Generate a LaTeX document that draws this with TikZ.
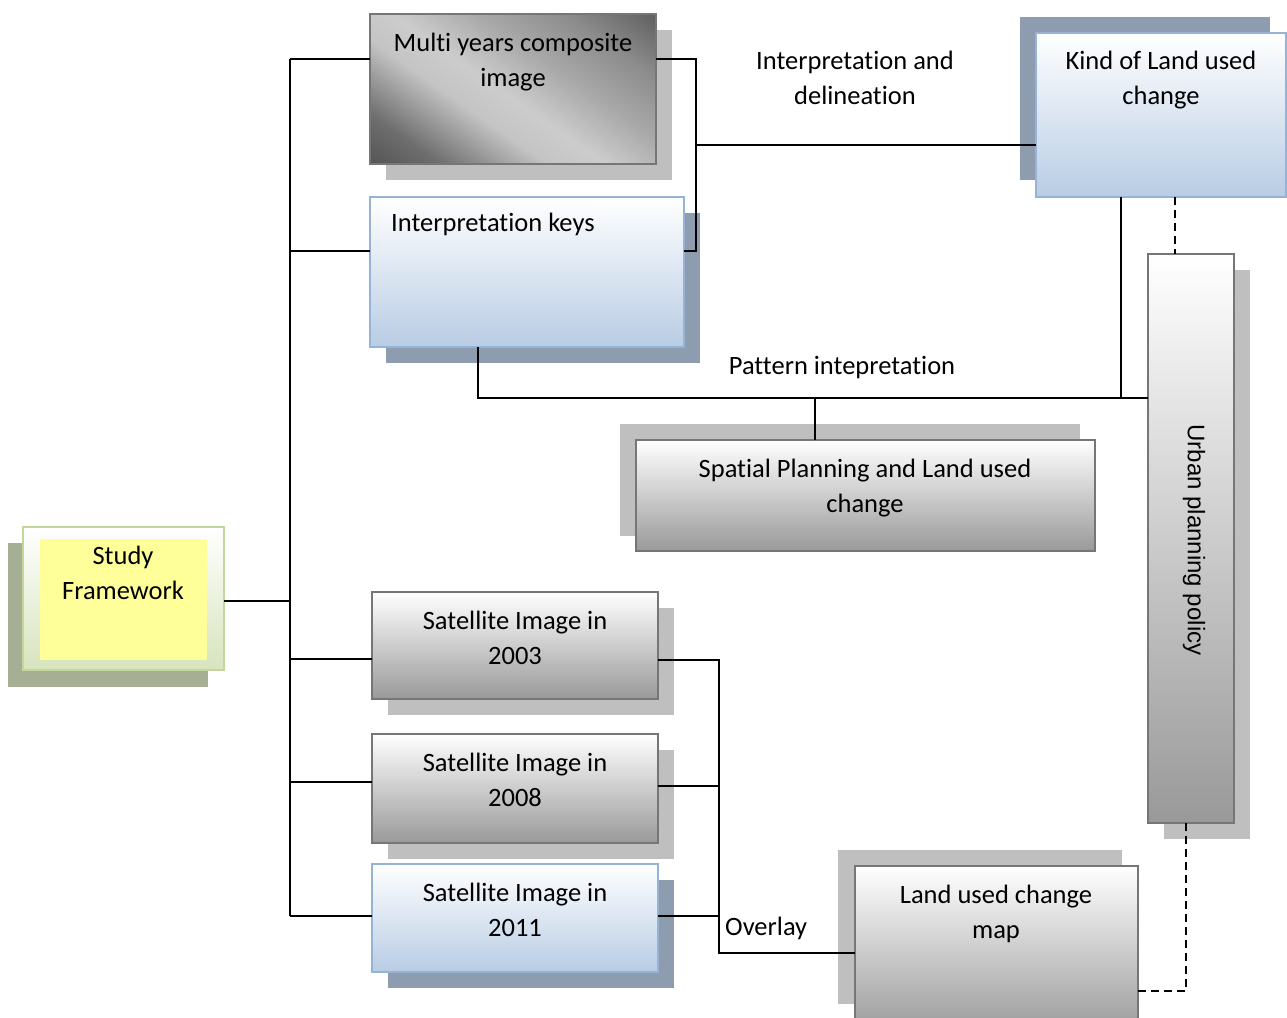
\documentclass[tikz,border=0pt]{standalone}
\usepackage{fontspec}
\setmainfont{Carlito}[Ligatures={NoCommon}]
\newfontfamily\arialfont{Liberation Sans}
\usetikzlibrary{calc}
\definecolor{sgray}{HTML}{BFBFBF}
\definecolor{sblue}{HTML}{8E9CB0}
\definecolor{sgreen}{HTML}{A6AE94}
\definecolor{bgray}{HTML}{767676}
\definecolor{botgray}{HTML}{999999}
\definecolor{bblue}{HTML}{95B3D7}
\definecolor{botblue}{HTML}{B8CCE4}
\definecolor{bgreen}{HTML}{C3D69B}
\definecolor{botgreen}{HTML}{D7E4BD}
\definecolor{yel}{HTML}{FFFF99}
\pgfdeclareverticalshading{multishade}{100bp}{%
  color(0bp)=(black!67); color(15bp)=(black!67); color(25bp)=(black!57);
  color(40bp)=(black!23); color(48bp)=(black!20); color(60bp)=(black!34);
  color(72bp)=(black!45); color(85bp)=(black!63); color(100bp)=(black!63)}
\begin{document}
\begin{tikzpicture}[x=1pt,y=-1pt,
  box/.style={rectangle, inner sep=0pt, outer sep=0pt, line width=2.5pt},
  graybox/.style={box, draw=bgray, top color=white, bottom color=botgray},
  bluebox/.style={box, draw=bblue, top color=white, bottom color=botblue},
  txt/.style={inner sep=0pt, align=center, font=\fontsize{26.5}{35}\selectfont},
  conn/.style={draw=black, line width=1.8pt},
  dconn/.style={draw=black, line width=1.8pt, dash pattern=on 8pt off 5pt}]
\useasboundingbox (0,0) rectangle (1287,1017);
% shadows
\fill[sgray] (386,30) rectangle (672,180);
\fill[sblue] (386,213) rectangle (700,363);
\fill[sblue] (1020,17) rectangle (1270,180);
\fill[sgreen] (8,543) rectangle (208,687);
\fill[sgray] (620,424) rectangle (1080,536);
\fill[sgray] (1164,270) rectangle (1250,839);
\fill[sgray] (388,608) rectangle (674,715);
\fill[sgray] (388,750) rectangle (674,859);
\fill[sblue] (388,880) rectangle (674,988);
\fill[sgray] (838,850) rectangle (1122,1004);
% boxes
\node[box, draw=bgray, shading=multishade, shading angle=-35,
      minimum width=286pt, minimum height=150pt] (multi) at (513,89) {};
\node[bluebox, minimum width=314pt, minimum height=150pt] (keys) at (527,272) {};
\node[bluebox, minimum width=250pt, minimum height=164pt] (kind) at (1161,115) {};
\node[box, draw=bgreen, top color=white, bottom color=botgreen, minimum width=201pt, minimum height=143pt] (study) at (123.5,598.5) {};
\node[rectangle, fill=yel, inner sep=0pt, minimum width=167pt, minimum height=121pt] (studyIn) at (123.5,599.5) {};
\node[graybox, minimum width=459pt, minimum height=111pt] (spatial) at (865.5,495.5) {};
\node[graybox, minimum width=86pt, minimum height=569pt] (urban) at (1191,538.5) {};
\node[graybox, minimum width=286pt, minimum height=107pt] (sat03) at (515,645.5) {};
\node[graybox, minimum width=286pt, minimum height=109pt] (sat08) at (515,788.5) {};
\node[bluebox, minimum width=286pt, minimum height=108pt] (sat11) at (515,918) {};
\node[graybox, minimum width=283pt, minimum height=170pt] (map) at (996.5,951) {};
% texts
\node[txt, anchor=north] (multiT) at (513,33) {Multi years composite\\image};
\node[txt, anchor=north west] (keysT) at (391,213) {Interpretation keys};
\node[txt, anchor=north] (kindT) at (1161,51) {Kind of Land used\\change};
\node[txt, anchor=north] (idT) at (855,51) {Interpretation and\\delineation};
\node[txt, anchor=north] (patT) at (842,356) {Pattern intepretation};
\node[txt, anchor=north] (spatialT) at (865,459) {Spatial Planning and Land used\\change};
\node[txt, anchor=north] (studyT) at (123,546) {Study\\Framework};
\node[txt, anchor=north] (sat03T) at (515,611) {Satellite Image in\\2003};
\node[txt, anchor=north] (sat08T) at (515,753) {Satellite Image in\\2008};
\node[txt, anchor=north] (sat11T) at (515,883) {Satellite Image in\\2011};
\node[txt, anchor=north] (mapT) at (996,885) {Land used change\\map};
\node[txt, anchor=north west] (ovT) at (725,917) {Overlay};
\node[inner sep=0pt, rotate=-90, font=\arialfont\fontsize{24}{28}\selectfont] (urbanT) at (1194,540) {Urban planning policy};
% connectors
\coordinate (trunkT) at (290,59);
\coordinate (trunkB) at (290,916);
\draw[conn] (trunkT) -- (trunkB);
\draw[conn] ([yshift=-2.5pt]study.east) -- ([yshift=-2.5pt]study.east -| trunkT);
\draw[conn] (trunkT) -- (trunkT -| multi.west);
\draw[conn] ([yshift=21pt]keys.west) -- ([yshift=21pt]keys.west -| trunkT);
\draw[conn] ([yshift=-13.5pt]sat03.west) -- ([yshift=-13.5pt]sat03.west -| trunkT);
\draw[conn] ([yshift=6.5pt]sat08.west) -- ([yshift=6.5pt]sat08.west -| trunkT);
\draw[conn] (trunkB) -- (trunkB -| sat11.west);
\draw[conn] ([yshift=30pt]multi.east) -| ([xshift=12pt,yshift=21pt]keys.east) -- ([yshift=21pt]keys.east);
\coordinate (jmk) at (696,145);
\draw[conn] (jmk) -- (jmk -| kind.west);
\coordinate (pj) at ([yshift=140.5pt]urban.west);
\draw[conn] ([xshift=-49pt]keys.south) |- (pj);
\draw[conn] ([xshift=-40pt]kind.south) -- ([xshift=-40pt]kind.south |- pj);
\draw[conn] ([xshift=-50.5pt]spatial.north) -- ([xshift=-50.5pt]spatial.north |- pj);
\draw[dconn] ([xshift=14pt]kind.south) -- ([xshift=14pt]kind.south |- urban.north);
\draw[dconn] ([xshift=-5pt]urban.south) |- ([yshift=-40pt]map.east);
\coordinate (ovb) at (719,953);
\draw[conn] ([yshift=-14.5pt]sat03.east) -| (ovb) -- (ovb -| map.west);
\draw[conn] ([yshift=2.5pt]sat08.east) -- ([yshift=2.5pt]sat08.east -| ovb);
\draw[conn] ([yshift=2pt]sat11.east) -- ([yshift=2pt]sat11.east -| ovb);
\end{tikzpicture}
\end{document}
